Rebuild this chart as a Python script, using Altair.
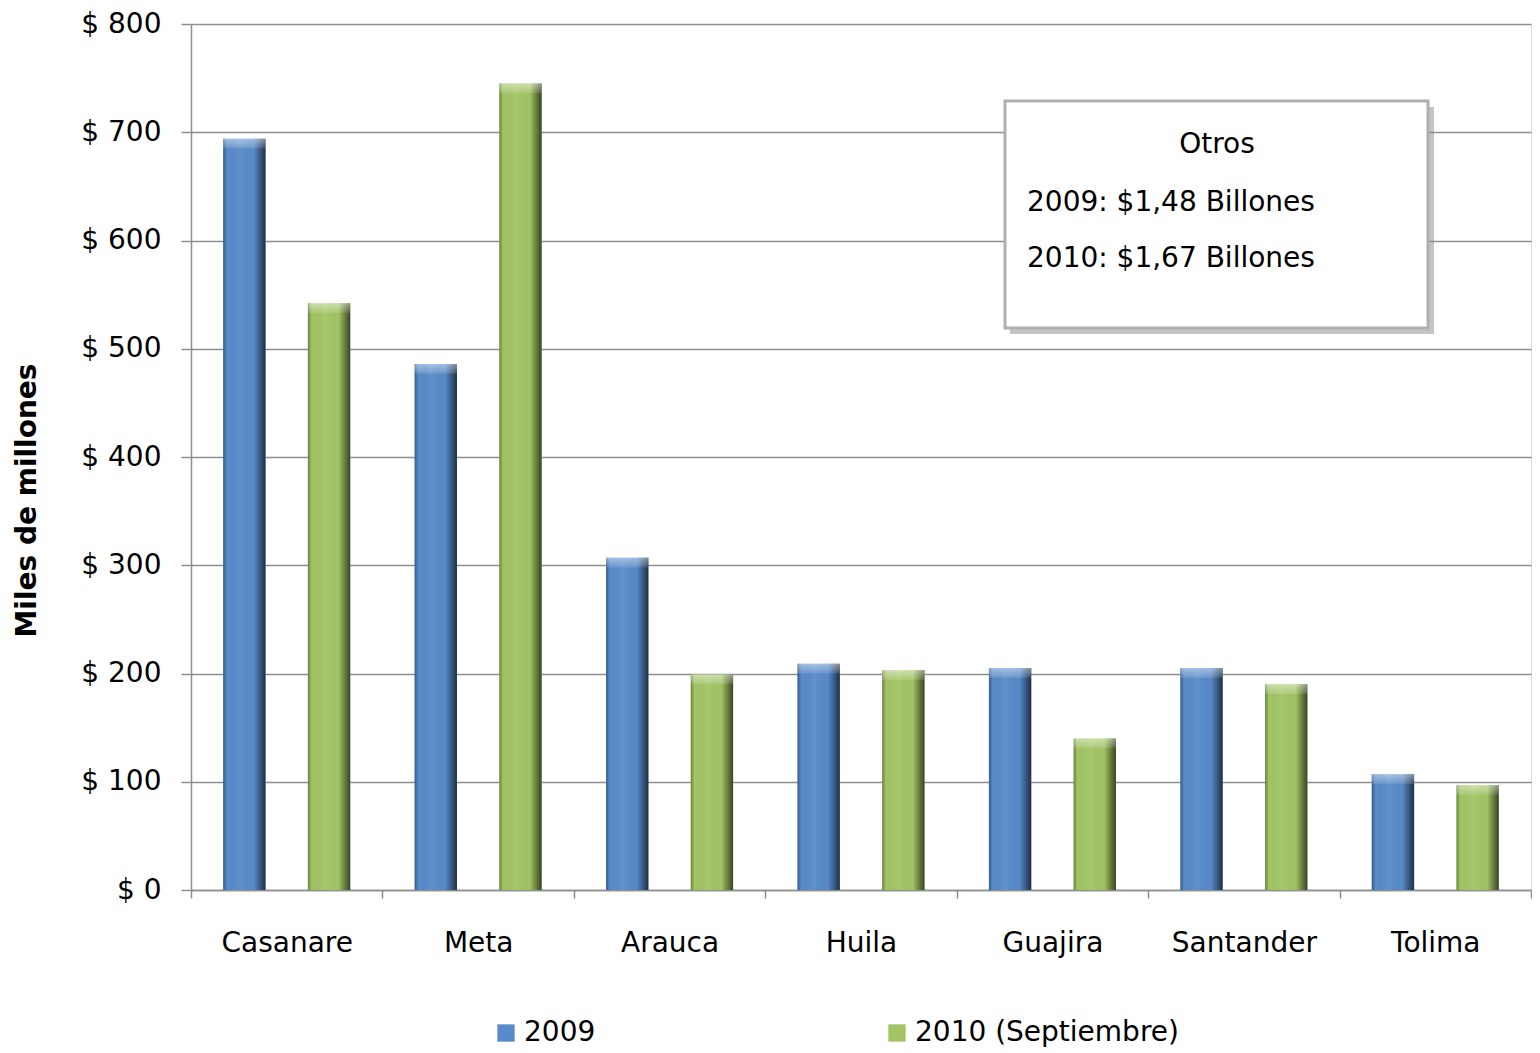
import altair as alt
import pandas as pd

# ---- data ----
categories = ["Casanare", "Meta", "Arauca", "Huila", "Guajira", "Santander", "Tolima"]
series = ["2009", "2010 (Septiembre)"]
values_2009 = [694, 486, 307, 209, 205, 205, 107]
values_2010 = [542, 745, 199, 203, 140, 190, 97]
y_ticks = [0, 100, 200, 300, 400, 500, 600, 700, 800]
series_colors = ["#588AC9", "#A2C464"]
note_title = ["Otros"]
note_lines = ["2009: $1,48 Billones", "2010: $1,67 Billones"]

rows = []
for c, a, b in zip(categories, values_2009, values_2010):
    rows.append({"Departamento": c, "Serie": series[0], "Valor": a})
    rows.append({"Departamento": c, "Serie": series[1], "Valor": b})
df = pd.DataFrame(rows)

W, H = 1340, 866
FONT = "DejaVu Sans"
GRID = "#8e8e8e"
FS = 28

x_enc = alt.X(
    "Departamento:N",
    sort=categories,
    scale=alt.Scale(paddingInner=0, paddingOuter=0),
    axis=alt.Axis(
        title=None, labelAngle=0, labelFontSize=FS, labelFont=FONT, labelColor="#000000",
        labelPadding=31, tickBand="extent", tickSize=8, tickColor=GRID, tickWidth=1.5,
        domainColor=GRID, domainWidth=1.5, grid=False,
    ),
)
xo_enc = alt.XOffset("Serie:N", sort=series,
                     scale=alt.Scale(domain=series, paddingInner=0.5, paddingOuter=0.38))
y_enc = alt.Y(
    "Valor:Q",
    scale=alt.Scale(domain=[0, 800], nice=False),
    axis=alt.Axis(
        values=y_ticks, labelExpr="'$ ' + datum.value", labelFontSize=FS, labelFont=FONT,
        labelColor="#000000", labelPadding=20, tickSize=10, tickColor=GRID, tickWidth=1.5,
        domainColor=GRID, domainWidth=1.5, gridColor=GRID, gridWidth=1.5,
        title="Miles de millones", titleFontSize=28, titleFont=FONT, titleFontWeight="bold",
        titleColor="#000000", titlePadding=39, titleY=476,
    ),
)

base = alt.Chart(df).mark_bar().encode(
    x=x_enc, xOffset=xo_enc, y=y_enc,
    color=alt.Color(
        "Serie:N", sort=series,
        scale=alt.Scale(domain=series, range=series_colors),
        legend=alt.Legend(
            title=None, orient="none", legendX=301, legendY=995, direction="horizontal",
            symbolType="square", symbolSize=300, symbolStrokeWidth=0, labelFontSize=FS,
            labelFont=FONT, labelColor="#000000", columnPadding=287, labelOffset=4,
            labelLimit=0,
        ),
    ),
)

shade = alt.Chart(df).mark_bar(
    fill=alt.Gradient(
        gradient="linear", x1=0, x2=1, y1=0, y2=0,
        stops=[
            alt.GradientStop(color="rgba(0,0,0,0.35)", offset=0),
            alt.GradientStop(color="rgba(0,0,0,0.0)", offset=0.09),
            alt.GradientStop(color="rgba(255,255,255,0.06)", offset=0.4),
            alt.GradientStop(color="rgba(0,0,0,0.0)", offset=0.72),
            alt.GradientStop(color="rgba(0,0,0,0.35)", offset=0.87),
            alt.GradientStop(color="rgba(0,0,0,0.65)", offset=1),
        ],
    )
).encode(x=x_enc, xOffset=xo_enc, y=y_enc)

cap = alt.Chart(df).transform_calculate(top2="datum.Valor - 9").mark_bar(
    fill=alt.Gradient(
        gradient="linear", x1=0, x2=0, y1=0, y2=1,
        stops=[
            alt.GradientStop(color="rgba(255,255,255,0.45)", offset=0),
            alt.GradientStop(color="rgba(255,255,255,0.10)", offset=1),
        ],
    )
).encode(x=x_enc, xOffset=xo_enc, y=y_enc, y2="top2:Q")

note_df = pd.DataFrame({"t": note_title})
shadow = alt.Chart(note_df).mark_rect(fill="#8a8a8a", opacity=0.5).encode(
    x=alt.value(819), x2=alt.value(1243), y=alt.value(83), y2=alt.value(310)
)
box = alt.Chart(note_df).mark_rect(fill="#ffffff", stroke="#b0b0b0", strokeWidth=3).encode(
    x=alt.value(814), x2=alt.value(1237), y=alt.value(77), y2=alt.value(304)
)
title_txt = alt.Chart(note_df).mark_text(
    align="center", baseline="middle", fontSize=FS, font=FONT, color="#000000"
).encode(x=alt.value(1026), y=alt.value(121), text="t:N")

line_layers = []
line_y = [179, 235]
for txt, yy in zip(note_lines, line_y):
    line_layers.append(
        alt.Chart(pd.DataFrame({"t": [txt]})).mark_text(
            align="left", baseline="middle", fontSize=FS, font=FONT, color="#000000"
        ).encode(x=alt.value(836), y=alt.value(yy), text="t:N")
    )

chart = alt.layer(base, shade, cap, shadow, box, title_txt, *line_layers).properties(
    width=W, height=H, padding={"left": 5, "top": 2, "right": 0, "bottom": 0}
).configure_view(stroke=None).configure(background="#ffffff")

chart.save("out.html", embed_options={"renderer": "svg", "actions": False})
